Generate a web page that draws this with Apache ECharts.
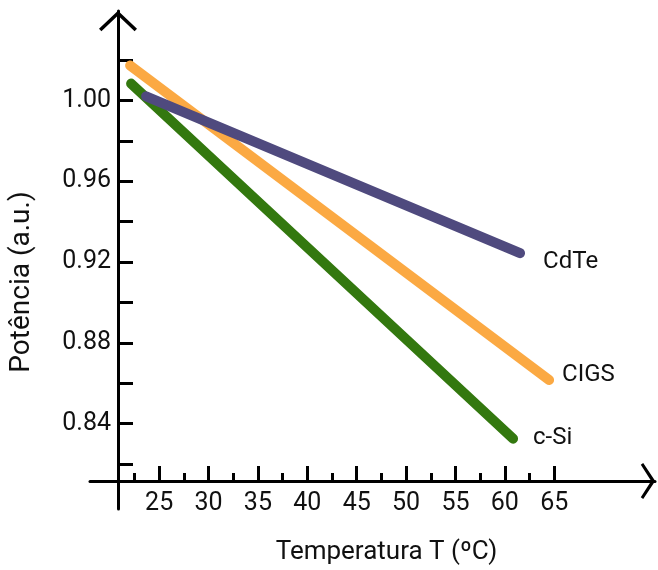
<!DOCTYPE html>
<html>
<head>
<meta charset="utf-8">
<script src="https://cdn.jsdelivr.net/npm/echarts@6/dist/echarts.min.js"></script>
<style>html,body{margin:0;padding:0;background:#fff}#c{width:658px;height:570px}</style>
</head>
<body>
<div id="c"></div>
<script>
// ---- data ----
const seriesNames = ['c-Si', 'CIGS', 'CdTe'];
const cSiT = [22.16, 60.83];
const cSiP = [1.0083, 0.8326];
const cigsT = [22.06, 64.48];
const cigsP = [1.0172, 0.8616];
const cdteT = [23.68, 61.54];
const cdteP = [1.002, 0.9244];
const xMajorTicks = [25, 30, 35, 40, 45, 50, 55, 60, 65];
const xMinorTicks = [22.5, 27.5, 32.5, 37.5, 42.5, 47.5, 52.5, 57.5, 62.5];
const yTicks = [0.82, 0.84, 0.86, 0.88, 0.90, 0.92, 0.94, 0.96, 0.98, 1.00, 1.02];
const yTickLabels = [0.84, 0.88, 0.92, 0.96, 1.00];
const xName = 'Temperatura T (ºC)';
const yName = 'Potência (a.u.)';

const FONT = 'Roboto';
const pair = (xs, ys) => xs.map((x, i) => [x, ys[i]]);
const colors = { 'c-Si': '#33780f', 'CIGS': '#fba943', 'CdTe': '#4f4a7e' };
const labelOffsets = { 'c-Si': [20, -1], 'CIGS': [13, -5], 'CdTe': [23, 9] };
const seriesData = { 'c-Si': pair(cSiT, cSiP), 'CIGS': pair(cigsT, cigsP), 'CdTe': pair(cdteT, cdteP) };

const chart = echarts.init(document.getElementById('c'), null, { renderer: 'canvas' });
const chevronUp = 'path://M0,18 L19,0 L38,18 L35.6,20.4 L19,4.6 L2.4,20.4 Z';
const chevronX = 'path://M0,12 L18,0 L36,12 L34.2,14.4 L18,4 L1.8,14.4 Z';

chart.setOption({
  animation: false,
  backgroundColor: '#fff',
  grid: { left: 90, right: 3, top: 11, bottom: 57, containLabel: false },
  xAxis: [{
    type: 'value', min: 18, max: 75.2, position: 'bottom', offset: -28,
    name: xName, nameLocation: 'middle', nameGap: 58,
    nameTextStyle: { fontFamily: FONT, fontSize: 26, color: '#111', padding: [0, 0, 0, 28] },
    axisLine: { show: true, lineStyle: { color: '#000', width: 3 },
      symbol: ['none', chevronX], symbolSize: [36, 14.4], symbolOffset: [0, -7] },
    axisTick: { show: true, inside: true, length: 15, lineStyle: { color: '#000', width: 3 }, customValues: xMajorTicks },
    axisLabel: { show: true, customValues: xMajorTicks, fontFamily: FONT, fontSize: 25, color: '#111', margin: 10 },
    splitLine: { show: false }
  }, {
    type: 'value', min: 18, max: 75.2, position: 'bottom', offset: -28,
    axisLine: { show: false },
    axisTick: { show: true, inside: true, length: 8, lineStyle: { color: '#000', width: 3 }, customValues: xMinorTicks },
    axisLabel: { show: false },
    splitLine: { show: false }
  }],
  yAxis: {
    type: 'value', min: 0.7978, max: 1.0442, position: 'left', offset: -28,
    name: yName, nameLocation: 'middle', nameGap: 82,
    nameTextStyle: { fontFamily: FONT, fontSize: 28, color: '#111', padding: [0, 44, 0, 0] },
    axisLine: { show: true, lineStyle: { color: '#000', width: 3 },
      symbol: ['none', chevronUp], symbolSize: [38, 20.4], symbolOffset: [0, -10] },
    axisTick: { show: true, inside: true, length: 15, lineStyle: { color: '#000', width: 3 }, customValues: yTicks },
    axisLabel: { show: true, customValues: yTickLabels, fontFamily: FONT, fontSize: 25, color: '#111', margin: 7,
      formatter: v => Number(v).toFixed(2) },
    splitLine: { show: false }
  },
  series: seriesNames.map(name => ({
    name, type: 'line', data: seriesData[name], showSymbol: false, symbol: 'none',
    lineStyle: { color: colors[name], width: 10, cap: 'round' },
    itemStyle: { color: colors[name] },
    endLabel: { show: true, formatter: name, fontFamily: FONT, fontSize: 24, color: '#111',
      distance: 0, offset: labelOffsets[name] },
    z: 3
  }))
});
</script>
</body>
</html>
